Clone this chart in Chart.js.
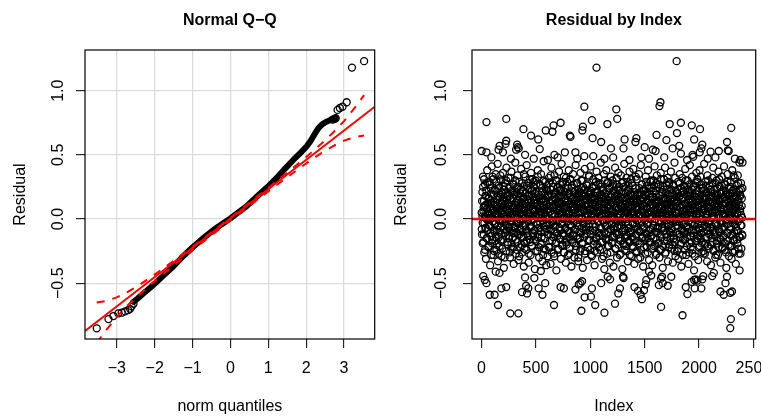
<!DOCTYPE html>
<html>
<head>
<meta charset="utf-8">
<script src="https://cdn.jsdelivr.net/npm/chart.js@4.4.1/dist/chart.umd.min.js"></script>
<style>
  html, body { margin: 0; padding: 0; background: #fff; }
  #wrap { position: relative; width: 761px; height: 418px; overflow: hidden; }
  canvas { position: absolute; top: 0; }
  #qq { left: 0; }
  #idx { left: 380px; }
</style>
</head>
<body>
<div id="wrap">
  <canvas id="qq" width="380" height="418"></canvas>
  <canvas id="idx" width="381" height="418"></canvas>
</div>
<script>
// ---- shared y axis (residuals) ----
const yTicks = [-0.5, 0, 0.5, 1.0];
const yLabels = ["\u22120.5", "0.0", "0.5", "1.0"];

// ---- Normal Q-Q panel ----
const qqXTicks = [-3, -2, -1, 0, 1, 2, 3];
const qqXLabels = ["\u22123", "\u22122", "\u22121", "0", "1", "2", "3"];

// dense middle of the sorted residuals (points overlap into a solid trace)
const qqBodyQuant = [-2.56, -2.45, -2.3, -2.12, -1.95, -1.75, -1.51, -1.25, -0.98, -0.7, -0.45, -0.2, 0.0, 0.2, 0.43, 0.7, 1.0, 1.22, 1.45, 1.66, 1.85, 2.01, 2.12, 2.23, 2.33, 2.43, 2.55, 2.67, 2.78];
const qqBodyResid = [-0.645, -0.62, -0.58, -0.535, -0.49, -0.435, -0.37, -0.29, -0.216, -0.145, -0.086, -0.035, 0.005, 0.05, 0.1, 0.175, 0.255, 0.32, 0.395, 0.46, 0.515, 0.565, 0.61, 0.665, 0.71, 0.74, 0.76, 0.775, 0.785];

// sparse tail points
const qqTailQuant = [-3.53, -3.22, -3.09, -2.96, -2.87, -2.78, -2.7, -2.65, -2.61, -2.56, 2.7, 2.75, 2.78, 2.83, 2.89, 2.96, 3.07, 3.21, 3.53];
const qqTailResid = [-0.852, -0.78, -0.756, -0.735, -0.73, -0.72, -0.71, -0.7, -0.68, -0.66, 0.775, 0.78, 0.785, 0.85, 0.865, 0.875, 0.91, 1.18, 1.23];

// reference line
const qqLineQuant = [-3.84, 3.81];
const qqLineResid = [-0.873, 0.875];

// pointwise 95% envelope
const bandQuant = [-3.53, -3.3, -3.0, -2.7, -2.4, -2.1, -1.8, -1.5, -1.0, 0, 1.0, 1.5, 1.8, 2.1, 2.4, 2.7, 3.0, 3.3, 3.53];
const bandUpper = [-0.650, -0.639, -0.611, -0.566, -0.513, -0.454, -0.391, -0.326, -0.215, 0.011, 0.243, 0.362, 0.434, 0.509, 0.587, 0.670, 0.763, 0.873, 0.966];
const bandLower = [-0.966, -0.873, -0.763, -0.670, -0.587, -0.509, -0.434, -0.362, -0.243, -0.011, 0.215, 0.326, 0.391, 0.454, 0.513, 0.566, 0.611, 0.639, 0.650];

// ---- Residual by Index panel ----
const idxTicks = [0, 500, 1000, 1500, 2000, 2500];
const idxLabels = ["0", "500", "1000", "1500", "2000", "2500"];

// dense band: two interleaved runs of observations, every 3rd index
const coreStep = 3;
const coreStartA = 1;
const coreResidA = [
  0.05,-0.12,0.21,-0.03,0.33,-0.18,0.09,0.14,-0.26,0.02,0.27,-0.07,0.11,-0.31,0.18,0.00,-0.15,0.38,-0.09,0.06,
  0.16,-0.22,0.03,0.29,-0.05,0.12,-0.36,0.08,0.24,-0.13,0.01,0.41,-0.19,0.07,-0.02,0.31,-0.28,0.13,0.19,-0.10,
  -0.04,0.22,-0.17,0.35,0.04,-0.24,0.15,-0.08,0.10,0.43,-0.33,0.06,0.26,-0.14,0.00,-0.21,0.17,0.09,-0.06,0.30,
  0.12,-0.29,0.20,-0.01,0.07,0.36,-0.16,0.03,-0.38,0.23,0.14,-0.11,0.28,-0.04,0.08,-0.25,0.40,0.02,-0.09,0.18,
  -0.20,0.10,0.32,-0.07,0.05,-0.13,0.25,-0.30,0.16,0.01,-0.02,0.37,-0.23,0.11,0.21,-0.15,0.04,0.27,-0.35,0.09,
  0.19,-0.06,0.02,0.44,-0.27,0.13,-0.10,0.24,0.06,-0.18,0.34,-0.03,0.15,-0.32,0.08,0.29,-0.12,0.00,0.20,-0.22,
  0.07,0.39,-0.14,0.11,-0.26,0.03,0.22,-0.05,0.17,-0.37,0.26,0.09,-0.19,0.01,0.33,-0.08,0.12,-0.24,0.42,0.05,
  -0.11,0.18,-0.02,0.28,-0.34,0.14,0.04,-0.16,0.23,0.10,-0.28,0.36,-0.06,0.19,0.00,-0.21,0.31,0.07,-0.13,0.15,
  0.25,-0.09,0.12,-0.39,0.06,0.30,-0.17,0.02,0.21,-0.04,0.13,-0.25,0.38,-0.12,0.08,0.17,-0.30,0.03,0.27,-0.07,
  0.10,-0.20,0.35,0.01,-0.14,0.24,-0.33,0.09,0.16,-0.01,0.45,-0.23,0.05,0.20,-0.10,0.29,-0.05,0.14,-0.36,0.11,
  -0.03,0.26,-0.29,0.08,0.19,-0.12,0.32,0.00,-0.22,0.13,0.06,-0.35,0.23,-0.08,0.40,0.04,-0.17,0.15,0.28,-0.02,
  0.09,-0.27,0.17,0.34,-0.06,0.02,-0.19,0.21,0.11,-0.40,0.30,-0.11,0.07,0.25,-0.24,0.14,-0.01,0.37,-0.15,0.05,
  0.22,-0.09,0.03,-0.31,0.18,0.43,-0.04,0.12,-0.20,0.27,0.01,-0.13,0.33,-0.26,0.08,0.16,-0.07,0.24,-0.34,0.10,
  -0.16,0.06,0.29,-0.02,0.14,-0.28,0.20,0.38,-0.10,0.04,-0.23,0.31,0.09,-0.05,0.17,-0.37,0.26,0.00,0.12,-0.18,
  0.35,-0.13,0.07,0.21,-0.30,0.02,0.15,-0.08,0.42,-0.21,0.11,0.28,-0.03,0.19,-0.15,0.05,-0.33,0.23,0.13,-0.06,
  0.03,0.17,-0.25,0.36,-0.11,0.09,0.24,-0.19,0.01,0.30,-0.38,0.14,-0.04,0.20,0.07,-0.14,0.39,-0.27,0.10,0.18,
  -0.08,0.27,0.04,-0.32,0.15,-0.01,0.22,0.12,-0.17,0.34,-0.06,0.08,-0.24,0.19,0.41,-0.12,0.02,0.16,-0.29,0.25,
  0.11,-0.04,0.31,-0.20,0.06,0.18,-0.36,0.13,-0.09,0.26,0.00,-0.15,0.37,0.05,-0.26,0.21,-0.02,0.10,0.32,-0.11,
  -0.22,0.14,0.02,0.28,-0.07,0.44,-0.18,0.09,0.19,-0.31,0.04,0.23,-0.13,0.16,-0.03,0.35,-0.39,0.07,0.12,-0.05,
  0.20,-0.16,0.38,-0.01,0.10,-0.27,0.15,0.29,-0.10,0.03,-0.21,0.24,0.08,-0.34,0.17,0.01,0.33,-0.08,0.13,-0.19,
  0.06,0.30,-0.14,0.11,-0.37,0.22,0.00,-0.06,0.18,0.40,-0.23,0.09,0.14,-0.11,0.27,-0.30,0.04,0.19,-0.02,0.36,
  -0.12,0.08,0.25,-0.28,0.13,0.03,-0.17,0.34,-0.05,0.21,0.10,-0.39,0.16,-0.09,0.29,0.01,-0.20,0.43,0.07,-0.15,
  0.17,-0.03,0.12,-0.25,0.32,0.05,-0.13,0.22,-0.33,0.09,0.26,-0.07,0.02,0.37,-0.18,0.14,-0.10,0.20,0.04,-0.29,
  0.28,-0.21,0.06,0.15,-0.04,0.39,-0.16,0.11,-0.35,0.19,0.00,0.24,-0.12,0.08,-0.26,0.31,0.13,-0.01,0.18,-0.08,
  -0.31,0.10,0.35,-0.09,0.03,0.21,-0.19,0.14,0.42,-0.24,0.07,-0.02,0.27,-0.14,0.16,-0.37,0.05,0.23,-0.06,0.12,
  0.01,-0.27,0.19,0.33,-0.11,0.08,-0.22,0.26,0.04,-0.15,0.38,-0.03,0.13,-0.32,0.20,0.09,-0.08,0.29,-0.18,0.06,
  0.24,-0.13,0.02,-0.36,0.17,0.11,-0.05,0.30,-0.21,0.07,0.41,-0.10,0.15,0.00,-0.28,0.22,-0.16,0.34,0.03,-0.07,
  -0.19,0.13,0.27,-0.02,0.09,-0.30,0.18,0.05,-0.12,0.36,-0.24,0.10,0.21,-0.06,0.02,-0.38,0.25,0.14,-0.09,0.31,
  0.08,-0.17,0.40,0.04,-0.26,0.16,-0.01,0.23,-0.14,0.12,0.32,-0.33,0.06,0.19,-0.04,0.28,-0.20,0.00,0.15,-0.11,
  0.37,-0.07,0.11,-0.23,0.20,0.03,-0.34,0.26,0.09,-0.15,0.14,0.44,-0.18,0.05,-0.29,0.22,-0.02,0.17,0.10,-0.25,
  0.13,-0.05,0.29,-0.31,0.07,0.18,-0.12,0.35,0.00,-0.20,0.24,0.09,-0.37,0.15,-0.08,0.32,0.04,-0.16,0.21,0.02,
  -0.10,0.26,-0.24,0.12,0.39,-0.03,0.06,-0.28,0.19,0.10,-0.14,0.30,-0.06,0.23,-0.35,0.01,0.16,-0.19,0.42,0.08,
  0.20,-0.22,0.05,0.14,-0.09,0.33,-0.27,0.11,0.02,-0.13,0.25,-0.40,0.17,0.07,-0.04,0.28,-0.17,0.13,0.36,-0.01,
  0.04,0.31,-0.15,0.09,-0.32,0.22,0.15,-0.07,0.38,-0.21,0.03,0.18,-0.11,0.27,-0.26,0.10,0.00,-0.18,0.24,0.12,
  -0.27,0.16,0.43,-0.05,0.08,-0.20,0.29,0.01,-0.14,0.21,0.11,-0.33,0.34,-0.09,0.06,0.19,-0.23,0.14,-0.02,0.26,
  0.09,-0.12,0.23,-0.36,0.17,0.05,-0.06,0.32,-0.18,0.13,0.40,-0.25,0.02,0.20,-0.10,0.07,-0.30,0.28,0.15,-0.04,
  0.30,-0.19,0.06,0.18,-0.28,0.11,0.37,-0.08,0.01,-0.15,0.25,0.14,-0.34,0.09,0.21,-0.03,0.33,-0.22,0.04,0.16,
  -0.07,0.22,-0.13,0.41,0.03,-0.24,0.12,0.27,-0.01,0.19,-0.38,0.08,0.15,-0.11,0.35,-0.17,0.05,0.24,-0.29,0.10,
  0.18,0.02,-0.21,0.29,-0.06,0.14,-0.31,0.20,0.38,-0.12,0.07,-0.26,0.23,0.00,0.11,-0.16,0.32,-0.04,0.17,-0.35,
  0.12,-0.09,0.26,0.05,-0.19,0.34,-0.02,0.15,-0.27,0.22,0.44,-0.14,0.08,0.18,-0.05,0.28,-0.23,0.10,0.01,-0.13
];
const coreStartB = 2;
const coreResidB = [
  -0.08,0.14,0.02,-0.19,0.25,0.06,-0.12,0.31,-0.03,0.10,-0.24,0.18,0.01,-0.07,0.22,-0.15,0.08,0.28,-0.01,0.12,
  0.04,-0.21,0.16,-0.05,0.09,0.27,-0.11,0.00,0.20,-0.28,0.13,0.05,-0.16,0.33,-0.02,0.07,-0.09,0.19,-0.25,0.11,
  0.23,-0.04,0.10,-0.14,0.03,0.29,-0.20,0.15,-0.06,0.08,0.18,-0.27,0.02,0.24,-0.10,0.13,-0.01,0.34,-0.17,0.06,
  -0.12,0.21,0.05,-0.23,0.14,-0.02,0.26,0.09,-0.08,0.17,-0.30,0.11,0.00,0.20,-0.13,0.30,-0.05,0.07,0.15,-0.18,
  0.12,0.01,-0.15,0.24,-0.06,0.18,-0.26,0.08,0.32,-0.01,0.10,-0.19,0.22,0.04,-0.09,0.16,-0.22,0.27,0.03,-0.11,
  0.19,-0.07,0.06,0.30,-0.16,0.11,-0.03,0.21,-0.24,0.14,0.02,-0.12,0.25,-0.04,0.09,-0.29,0.17,0.05,-0.08,0.23,
  -0.02,0.13,-0.20,0.08,0.28,-0.10,0.16,0.00,-0.14,0.35,0.07,-0.23,0.12,-0.05,0.20,0.03,-0.17,0.10,0.26,-0.09,
  0.15,-0.13,0.24,0.02,-0.27,0.09,0.18,-0.06,0.31,-0.18,0.05,0.13,-0.02,-0.21,0.22,0.08,-0.11,0.17,0.00,0.29,
  -0.16,0.07,0.20,-0.09,0.12,-0.25,0.03,0.27,-0.04,0.15,0.10,-0.14,0.33,-0.07,0.01,0.19,-0.22,0.11,0.06,-0.03,
  0.26,-0.10,0.04,0.16,-0.19,0.21,-0.01,0.09,-0.28,0.14,0.30,-0.06,0.08,-0.15,0.18,0.02,-0.24,0.23,0.11,-0.08,
  0.07,0.22,-0.12,0.01,0.17,-0.22,0.28,-0.05,0.10,-0.17,0.06,0.34,-0.09,0.14,-0.26,0.19,0.03,-0.02,0.25,-0.14,
  -0.05,0.11,-0.29,0.20,0.04,-0.10,0.15,0.30,-0.18,0.08,-0.01,0.24,-0.13,0.12,0.02,-0.23,0.18,0.07,-0.07,0.27,
  0.13,-0.16,0.09,0.23,-0.03,0.16,-0.21,0.05,0.29,-0.11,0.19,0.00,-0.26,0.10,0.21,-0.08,0.14,-0.18,0.32,0.04,
  -0.20,0.18,0.01,-0.09,0.26,0.11,-0.14,0.06,0.20,-0.27,0.12,-0.04,0.31,0.03,-0.16,0.24,-0.06,0.09,0.16,-0.12,
  0.10,-0.02,0.27,-0.19,0.07,0.14,-0.08,0.22,-0.24,0.03,0.17,-0.13,0.09,0.28,-0.05,0.13,-0.30,0.20,0.01,-0.10,
  0.21,-0.15,0.05,0.12,-0.23,0.30,0.00,-0.07,0.18,0.08,-0.19,0.25,-0.03,0.15,-0.12,0.06,0.23,-0.25,0.11,0.02,
  -0.06,0.16,-0.11,0.26,0.03,-0.22,0.10,0.19,-0.04,0.33,-0.16,0.07,0.13,-0.09,0.22,-0.28,0.04,0.17,-0.01,0.12,
  0.24,-0.09,0.08,-0.17,0.15,0.02,-0.25,0.21,0.11,-0.06,0.29,-0.14,0.05,0.18,-0.20,0.09,-0.02,0.27,-0.11,0.14,
  -0.13,0.06,0.19,-0.24,0.12,0.25,-0.07,0.03,0.16,-0.18,0.08,-0.01,0.22,-0.29,0.13,0.04,-0.10,0.30,0.07,-0.15,
  0.17,0.03,-0.12,0.21,-0.05,0.09,-0.21,0.28,0.00,0.14,-0.16,0.06,0.24,-0.08,0.11,-0.26,0.19,0.02,-0.04,0.26,
  0.02,-0.18,0.13,0.27,-0.08,0.05,-0.14,0.20,0.10,-0.23,0.16,-0.03,0.07,0.32,-0.12,0.18,-0.06,0.01,0.23,-0.20,
  0.15,-0.05,0.22,-0.15,0.04,0.11,-0.27,0.17,0.06,-0.10,0.28,-0.02,0.12,-0.19,0.09,0.25,-0.07,0.14,-0.24,0.03,
  -0.09,0.20,0.00,-0.21,0.16,0.07,-0.13,0.29,-0.04,0.10,-0.17,0.23,0.02,0.13,-0.28,0.19,0.05,-0.11,0.31,0.08,
  0.11,-0.14,0.26,-0.03,0.18,-0.22,0.04,0.14,-0.08,0.21,0.01,-0.18,0.33,-0.06,0.09,-0.25,0.16,0.07,-0.01,0.20,
  -0.17,0.09,0.03,0.24,-0.10,0.15,-0.30,0.12,0.19,-0.05,0.06,0.27,-0.15,0.02,0.17,-0.08,0.22,-0.22,0.10,0.04,
  0.19,-0.01,-0.16,0.13,0.29,-0.12,0.08,-0.04,0.21,-0.26,0.15,0.05,-0.09,0.24,-0.18,0.11,0.00,0.17,-0.13,0.30,
  0.06,-0.23,0.17,0.02,-0.07,0.22,-0.15,0.09,0.26,-0.02,0.13,-0.20,0.04,0.19,-0.10,0.28,-0.27,0.12,0.07,-0.06,
  0.25,-0.11,0.10,-0.19,0.14,0.03,-0.24,0.18,-0.03,0.31,0.08,-0.14,0.21,-0.07,0.05,0.16,-0.21,0.00,0.23,-0.09,
  -0.04,0.16,-0.27,0.07,0.20,-0.12,0.11,0.26,-0.17,0.02,0.14,-0.06,0.29,-0.22,0.09,0.03,-0.10,0.18,-0.15,0.12,
  0.08,0.23,-0.08,0.15,-0.20,0.01,0.27,-0.13,0.10,-0.01,0.19,-0.25,0.06,0.32,-0.05,0.13,-0.16,0.21,0.04,-0.11,
  0.14,-0.07,0.20,-0.23,0.05,0.17,-0.02,0.28,-0.14,0.09,0.01,-0.19,0.24,0.11,-0.09,0.16,-0.28,0.06,0.22,-0.04,
  -0.12,0.25,0.03,-0.16,0.12,0.30,-0.06,0.08,-0.21,0.18,0.04,-0.10,0.21,-0.02,0.15,-0.26,0.10,0.27,-0.13,0.07,
  0.18,-0.03,0.11,-0.18,0.23,0.02,-0.24,0.14,0.07,-0.11,0.26,-0.05,0.17,-0.29,0.09,0.20,-0.08,0.03,0.13,-0.17,
  0.03,0.29,-0.13,0.10,-0.04,0.19,-0.22,0.06,0.16,-0.09,0.33,-0.15,0.12,0.00,-0.19,0.24,0.05,-0.07,0.18,-0.25,
  0.22,-0.10,0.07,0.15,-0.27,0.12,-0.01,0.26,-0.14,0.04,0.20,-0.06,0.09,-0.21,0.30,-0.03,0.14,-0.12,0.08,0.17,
  -0.07,0.13,-0.20,0.21,0.01,-0.15,0.28,0.05,-0.09,0.17,-0.24,0.11,0.02,0.23,-0.12,0.07,-0.03,0.19,-0.28,0.10,
  0.12,-0.17,0.24,-0.05,0.09,0.16,-0.22,0.03,0.31,-0.10,0.14,-0.02,0.20,-0.16,0.06,0.26,-0.08,0.11,-0.23,0.02,
  -0.14,0.08,0.17,-0.06,0.27,-0.19,0.04,0.12,-0.26,0.21,0.00,0.15,-0.11,0.29,-0.04,0.09,0.18,-0.20,0.06,0.13,
  0.20,-0.08,0.01,0.25,-0.13,0.10,-0.21,0.16,0.05,-0.03,0.22,-0.17,0.34,0.07,-0.10,0.13,-0.25,0.18,0.02,-0.06,
  0.09,0.21,-0.16,0.04,0.14,-0.09,0.28,-0.23,0.11,0.00,-0.14,0.19,0.06,-0.27,0.23,0.03,-0.05,0.16,-0.12,0.24
];

// isolated points outside the dense band
const tailIndex = [
  45,227,1,45,166,227,220,156,197,327,
  342,318,385,455,521,400,333,535,590,662,
  652,727,670,812,818,766,863,927,932,945,
  1015,1057,1021,1100,945,1027,1157,1239,1248,1190,
  1315,1415,1424,1500,1609,1575,1600,1636,1645,1730,
  1700,1794,1797,1833,1818,1833,1757,1933,2009,1955,
  1940,1947,2030,2021,2006,2182,2296,2257,2273,2264,
  90,270,480,610,700,880,1130,1210,1360,1470,
  1540,1680,1890,2080,2150,2330,2380,2106,1305,2400,
  15,30,45,75,120,151,182,227,264,339,
  130,165,372,409,430,418,485,400,525,560,
  585,545,666,727,757,863,894,924,909,918,
  948,1006,1015,1045,1100,1130,1160,1182,1227,1257,
  1273,1300,1306,1406,1439,1463,1475,1494,1509,1515,
  1540,1560,1651,1630,1666,1712,1650,1660,1745,1848,
  1878,1893,1932,1960,1955,1970,1985,2021,2030,2039,
  2121,2136,2197,2227,2243,2257,2287,2303,2293,2287,
  2394,2373
];
const tailResid = [
  0.755,0.78,0.53,0.52,0.57,0.61,0.585,0.54,0.52,0.58,
  0.55,0.54,0.70,0.65,0.62,0.50,0.56,0.545,0.69,0.73,
  0.68,0.75,0.50,0.65,0.64,0.52,0.52,0.69,0.72,0.875,
  0.77,1.18,0.63,0.60,0.49,0.49,0.74,0.855,0.78,0.55,
  0.62,0.60,0.63,0.56,0.655,0.54,0.53,0.88,0.91,0.74,
  0.615,1.23,0.67,0.75,0.57,0.51,0.55,0.73,0.70,0.62,
  0.50,0.485,0.58,0.55,0.52,0.53,0.71,0.60,0.53,0.535,
  0.48,0.47,0.47,0.46,0.48,0.47,0.47,0.48,0.46,0.48,
  0.47,0.48,0.46,0.47,0.48,0.47,0.46,0.525,0.55,0.44,
  -0.445,-0.475,-0.50,-0.59,-0.59,-0.67,-0.54,-0.53,-0.735,-0.735,
  -0.41,-0.42,-0.57,-0.52,-0.54,-0.58,-0.46,-0.455,-0.54,-0.59,
  -0.50,-0.405,-0.67,-0.53,-0.54,-0.55,-0.51,-0.485,-0.50,-0.715,
  -0.61,-0.605,-0.54,-0.67,-0.50,-0.73,-0.45,-0.47,-0.66,-0.58,
  -0.54,-0.45,-0.46,-0.53,-0.56,-0.59,-0.625,-0.555,-0.51,-0.475,
  -0.41,-0.44,-0.685,-0.515,-0.50,-0.52,-0.465,-0.45,-0.45,-0.75,
  -0.53,-0.585,-0.49,-0.54,-0.475,-0.47,-0.48,-0.54,-0.47,-0.445,
  -0.445,-0.42,-0.565,-0.59,-0.50,-0.45,-0.575,-0.565,-0.78,-0.85,
  -0.72,-0.40
];
const zeroLine = 0;

const FONT = '"Liberation Sans", Arial, Helvetica, sans-serif';

function pts(xs, ys) {
  return xs.map((x, i) => ({ x: x, y: ys[i] }));
}
function run(start, vals) {
  return vals.map((r, i) => ({ x: start + coreStep * i, y: r }));
}

// box, titles and R-style rotated y labels
const rFrame = {
  id: "rFrame",
  afterDraw(chart, args, o) {
    const ctx = chart.ctx;
    const a = chart.chartArea;
    const ys = chart.scales.y;
    const cx = (a.left + a.right) / 2;
    ctx.save();
    ctx.strokeStyle = "#000";
    ctx.lineWidth = 1.2;
    ctx.strokeRect(a.left, a.top, a.right - a.left, a.bottom - a.top);
    ctx.fillStyle = "#000";
    ctx.textAlign = "center";
    ctx.textBaseline = "alphabetic";
    ctx.font = "bold 16px " + FONT;
    ctx.fillText(o.title, cx, o.titleBase);
    ctx.font = "16px " + FONT;
    ctx.fillText(o.xTitle, cx, o.xTitleBase);
    ctx.save();
    ctx.translate(o.yTitleBase, (a.top + a.bottom) / 2);
    ctx.rotate(-Math.PI / 2);
    ctx.fillText(o.yTitle, 0, 0);
    ctx.restore();
    yTicks.forEach((v, i) => {
      ctx.save();
      ctx.translate(o.yLabelBase, ys.getPixelForValue(v));
      ctx.rotate(-Math.PI / 2);
      ctx.fillText(yLabels[i], 0, 0);
      ctx.restore();
    });
    ctx.restore();
  }
};

function axes(xMin, xMax, xTickVals, xTickLabels, gridColor, yWidth, xHeight) {
  const grid = {
    display: true,
    drawOnChartArea: gridColor !== null,
    color: gridColor || "#000",
    lineWidth: 1.3,
    drawTicks: true,
    tickLength: 9,
    tickColor: "#000",
    tickWidth: 1
  };
  return {
    x: {
      type: "linear",
      min: xMin,
      max: xMax,
      afterBuildTicks: (s) => { s.ticks = xTickVals.map((v) => ({ value: v })); },
      afterFit: (s) => { s.height = xHeight; s.paddingLeft = 0; s.paddingRight = 0; },
      border: { display: false },
      grid: grid,
      ticks: {
        autoSkip: false,
        maxRotation: 0,
        minRotation: 0,
        padding: 11,
        color: "#000",
        font: { family: FONT, size: 16 },
        callback: (v) => xTickLabels[xTickVals.indexOf(v)]
      }
    },
    y: {
      type: "linear",
      min: -0.935,
      max: 1.317,
      afterBuildTicks: (s) => { s.ticks = yTicks.map((v) => ({ value: v })); },
      afterFit: (s) => { s.width = yWidth; s.paddingTop = 0; s.paddingBottom = 0; },
      border: { display: false },
      grid: grid,
      ticks: { display: false }
    }
  };
}

const circle = {
  pointStyle: "circle",
  pointRadius: 3.5,
  pointBorderWidth: 1.3,
  pointBorderColor: "#000",
  pointBackgroundColor: "rgba(0,0,0,0)",
  showLine: false
};

new Chart(document.getElementById("qq"), {
  type: "scatter",
  data: {
    datasets: [
      { data: pts(qqLineQuant, qqLineResid), showLine: true, borderColor: "#ff0000", borderWidth: 2, pointRadius: 0, order: 0 },
      { data: pts(bandQuant, bandUpper), showLine: true, borderColor: "#ff0000", borderWidth: 2, borderDash: [8, 8], pointRadius: 0, order: 0 },
      { data: pts(bandQuant, bandLower), showLine: true, borderColor: "#ff0000", borderWidth: 2, borderDash: [8, 8], pointRadius: 0, order: 0 },
      Object.assign({ data: pts(qqTailQuant, qqTailResid), order: 1 }, circle),
      { data: pts(qqBodyQuant, qqBodyResid), showLine: true, borderColor: "#000", borderWidth: 6, borderCapStyle: "round", borderJoinStyle: "round", pointRadius: 0, order: 2 }
    ]
  },
  options: {
    responsive: false,
    animation: false,
    events: [],
    layout: { padding: { left: 0, top: 50, right: 5, bottom: 0 } },
    scales: axes(-3.84, 3.81, qqXTicks, qqXLabels, "#dcdcdc", 85, 79),
    plugins: {
      legend: { display: false },
      tooltip: { enabled: false },
      rFrame: { title: "Normal Q\u2212Q", titleBase: 24.5, xTitle: "norm quantiles", xTitleBase: 411, yTitle: "Residual", yTitleBase: 25, yLabelBase: 63 }
    }
  },
  plugins: [rFrame]
});

new Chart(document.getElementById("idx"), {
  type: "scatter",
  data: {
    datasets: [
      { data: [{ x: -88, y: zeroLine }, { x: 2521, y: zeroLine }], showLine: true, borderColor: "#ff0000", borderWidth: 2.5, pointRadius: 0, order: 0 },
      Object.assign({ data: pts(tailIndex, tailResid), order: 1 }, circle),
      Object.assign({ data: run(coreStartA, coreResidA), order: 2 }, circle),
      Object.assign({ data: run(coreStartB, coreResidB), order: 3 }, circle)
    ]
  },
  options: {
    responsive: false,
    animation: false,
    events: [],
    layout: { padding: { left: 0, top: 50, right: 2, bottom: 0 } },
    scales: axes(-88, 2521, idxTicks, idxLabels, null, 92, 79),
    plugins: {
      legend: { display: false },
      tooltip: { enabled: false },
      rFrame: { title: "Residual by Index", titleBase: 24.5, xTitle: "Index", xTitleBase: 411, yTitle: "Residual", yTitleBase: 25.5, yLabelBase: 66 }
    }
  },
  plugins: [rFrame]
});
</script>
</body>
</html>
